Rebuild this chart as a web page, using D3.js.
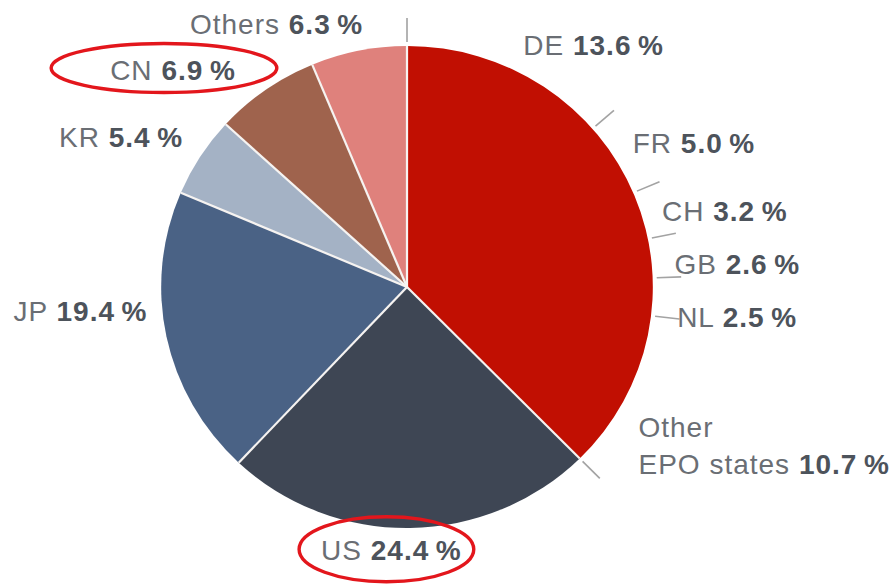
<!DOCTYPE html>
<html>
<head>
<meta charset="utf-8">
<script src="https://cdn.jsdelivr.net/npm/d3@7"></script>
<style>
    html, body { margin: 0; padding: 0; background: #fff; }
    svg { display: block; font-family: 'Liberation Sans', Arial, sans-serif; }
</style>
</head>
<body>
<div id="chart"></div>
<script>
// shares of applications, clockwise from 12 o'clock
const countries = ['DE', 'FR', 'CH', 'GB', 'NL', 'Other EPO states', 'US', 'JP', 'KR', 'CN', 'Others'];
const shares = [13.6, 5.0, 3.2, 2.6, 2.5, 10.7, 24.4, 19.4, 5.4, 6.9, 6.3];
const groups = ['EPO', 'EPO', 'EPO', 'EPO', 'EPO', 'EPO', 'US', 'JP', 'KR', 'CN', 'Others'];

const groupNames = ['EPO', 'US', 'JP', 'KR', 'CN', 'Others'];
const groupColors = ['#c10f02', '#3e4654', '#4a6285', '#a4b2c5', '#9f634d', '#df817c'];

// label nudges (px) relative to the spot computed from the slice angle
const labelNudge = {
    'DE': [3, 2], 'FR': [-6, -2], 'CH': [-6, 4], 'GB': [-4, 9], 'NL': [-3, 19],
    'Other EPO states': [-14, 22], 'US': [-19, -5], 'JP': [8, -31], 'KR': [6, -5],
    'CN': [-14, 2], 'Others': [10, 0]
};
// red rings drawn round some labels
const highlights = [
    {name: 'CN', padX: 50, padY: 9, shiftX: -9, shiftY: -2},
    {name: 'US', padX: 17, padY: 17, shiftX: -5, shiftY: -1}
];

const width = 893, height = 587;
const cx = 407, cy = 287, r = 241, sx = 1.02;

const svg = d3.select('#chart').append('svg')
    .attr('width', width)
    .attr('height', height);

const data = countries.map((c, i) => ({name: c, value: shares[i], group: groups[i]}));

const color = d3.scaleOrdinal().domain(groupNames).range(groupColors);

const pie = d3.pie().sort(null).value(d => d.value);
const arcs = pie(data);
const arc = d3.arc().innerRadius(0).outerRadius(r);

// one slice per group (EPO states share the red one)
const groupArcs = groupNames.map(gn => {
    const parts = arcs.filter(d => d.data.group === gn);
    return {
        group: gn,
        startAngle: d3.min(parts, d => d.startAngle),
        endAngle: d3.max(parts, d => d.endAngle)
    };
});

const g = svg.append('g')
    .attr('transform', `translate(${cx},${cy}) scale(${sx},1)`);

g.selectAll('path.slice')
    .data(groupArcs)
    .join('path')
    .attr('class', 'slice')
    .attr('d', arc)
    .attr('fill', d => color(d.group));

// white separators between the groups
g.selectAll('line.sep')
    .data(groupArcs)
    .join('line')
    .attr('class', 'sep')
    .attr('x1', 0).attr('y1', 0)
    .attr('x2', d => r * Math.sin(d.startAngle))
    .attr('y2', d => -r * Math.cos(d.startAngle))
    .attr('stroke', '#f6f3f1')
    .attr('stroke-width', 2.2);

// grey ticks marking the EPO states inside the red slice
const epoArcs = arcs.filter(d => d.data.group === 'EPO');
const tickAngles = epoArcs.map(d => d.startAngle).concat([epoArcs[epoArcs.length - 1].endAngle]);
g.selectAll('line.tick')
    .data(tickAngles)
    .join('line')
    .attr('class', 'tick')
    .attr('x1', a => (r + 4) * Math.sin(a))
    .attr('y1', a => -(r + 4) * Math.cos(a))
    .attr('x2', a => (r + 28) * Math.sin(a))
    .attr('y2', a => -(r + 28) * Math.cos(a))
    .attr('stroke', '#a3a3a3')
    .attr('stroke-width', 1.6);

// labels
const labelR = 268;
const fmt = d3.format('.1f');
const labels = svg.append('g')
    .attr('font-size', 28)
    .attr('letter-spacing', 1);
const labelNodes = {};

arcs.forEach(d => {
    const a = (d.startAngle + d.endAngle) / 2;
    const s = Math.sin(a);
    const nudge = labelNudge[d.data.name];
    const x = cx + labelR * sx * s + nudge[0];
    const y = cy - labelR * Math.cos(a) + nudge[1];
    const anchor = s > 0.05 ? 'start' : (s < -0.05 ? 'end' : 'middle');

    const t = labels.append('text')
        .attr('x', x)
        .attr('y', y)
        .attr('dy', '0.35em')
        .attr('text-anchor', anchor);

    const name = d.data.name;
    if (name === 'Other EPO states') {
        t.append('tspan').attr('x', x).attr('fill', '#6a6e74').text('Other');
        t.append('tspan').attr('x', x).attr('dy', '1.32em').attr('fill', '#6a6e74').text('EPO states ');
    } else {
        t.append('tspan').attr('fill', '#6a6e74').text(name + ' ');
    }
    t.append('tspan')
        .attr('fill', '#4d535b')
        .attr('font-weight', 'bold')
        .text(fmt(d.data.value) + '\u2009%');
    labelNodes[name] = t;
});

// red highlight rings
highlights.forEach(h => {
    const bb = labelNodes[h.name].node().getBBox();
    svg.append('ellipse')
        .attr('cx', bb.x + bb.width / 2 + h.shiftX)
        .attr('cy', bb.y + bb.height / 2 + h.shiftY)
        .attr('rx', bb.width / 2 + h.padX)
        .attr('ry', bb.height / 2 + h.padY)
        .attr('fill', 'none')
        .attr('stroke', '#e3161c')
        .attr('stroke-width', 3.4);
});
</script>
</body>
</html>
